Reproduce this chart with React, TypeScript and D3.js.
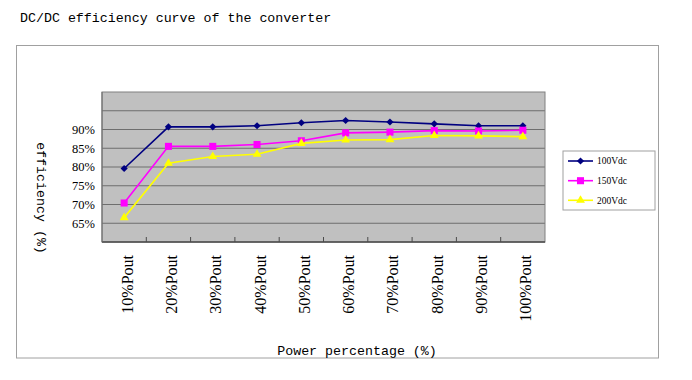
import React from "react";
import * as d3 from "d3";

const categories = ["10%Pout", "20%Pout", "30%Pout", "40%Pout", "50%Pout", "60%Pout", "70%Pout", "80%Pout", "90%Pout", "100%Pout"];
const series100 = [79.6, 90.7, 90.7, 91.0, 91.8, 92.4, 92.0, 91.5, 91.0, 91.0];
const series150 = [70.4, 85.5, 85.5, 86.0, 87.0, 89.1, 89.3, 89.7, 89.6, 89.8];
const series200 = [66.5, 81.0, 82.8, 83.4, 86.3, 87.2, 87.3, 88.4, 88.3, 88.1];
const seriesNames = ["100Vdc", "150Vdc", "200Vdc"];
const yTickValues = [65, 70, 75, 80, 85, 90];
const gridValues = [65, 70, 75, 80, 85, 90, 95];

const W = 692;
const H = 380;
const plot = { left: 102, top: 92, right: 545, bottom: 242 };

const seriesDefs = [
  { name: seriesNames[0], values: series100, color: "#000080", symbol: "diamond" },
  { name: seriesNames[1], values: series150, color: "#FF00FF", symbol: "square" },
  { name: seriesNames[2], values: series200, color: "#FFFF00", symbol: "triangle" },
];

function markerPath(kind: string): string {
  if (kind === "diamond") return d3.symbol().type(d3.symbolSquare).size(26)() as string;
  if (kind === "square") return d3.symbol().type(d3.symbolSquare).size(50)() as string;
  return d3.symbol().type(d3.symbolTriangle).size(34)() as string;
}

export default function App() {
  const x = d3.scaleBand<string>().domain(categories).range([plot.left, plot.right]);
  const y = d3.scaleLinear().domain([60, 100]).range([plot.bottom, plot.top]);
  const cx = (c: string) => (x(c) as number) + x.bandwidth() / 2;
  const line = d3
    .line<number>()
    .x((_, i) => cx(categories[i]))
    .y((d) => y(d));

  const mono = "'Liberation Mono', 'DejaVu Sans Mono', monospace";
  const serif = "'Liberation Serif', 'DejaVu Serif', serif";

  const legendY = [161, 180.7, 200.3];

  return (
    <svg width={W} height={H} style={{ position: "absolute", left: 0, top: 0, background: "#fff" }}>
      <rect x={0} y={0} width={W} height={H} fill="#fff" />
      <text x={20} y={21.5} fontFamily={mono} fontSize={13.3} fill="#000">
        DC/DC efficiency curve of the converter
      </text>
      {/* outer chart border */}
      <rect x={16.5} y={45.5} width={642} height={312.5} fill="#fff" stroke="#a0a0a0" strokeWidth={1} />

      {/* plot area */}
      <rect x={plot.left} y={plot.top} width={plot.right - plot.left} height={plot.bottom - plot.top} fill="#c0c0c0" />
      {gridValues.map((v) => (
        <line key={v} x1={plot.left} x2={plot.right} y1={y(v)} y2={y(v)} stroke="#6e6e6e" strokeWidth={1} />
      ))}
      <rect x={plot.left} y={plot.top} width={plot.right - plot.left} height={plot.bottom - plot.top} fill="none" stroke="#808080" strokeWidth={1} />
      <line x1={plot.left} x2={plot.right} y1={plot.bottom} y2={plot.bottom} stroke="#4a4a4a" strokeWidth={1.5} />
      <line x1={plot.left} x2={plot.left} y1={plot.top} y2={plot.bottom} stroke="#6a6a6a" strokeWidth={1} />
      {categories.slice(1).map((c) => (
        <line key={c} x1={x(c) as number} x2={x(c) as number} y1={plot.bottom} y2={plot.bottom - 5} stroke="#4a4a4a" strokeWidth={1} />
      ))}

      {/* y tick labels */}
      {yTickValues.map((v) => (
        <text key={v} x={95} y={y(v)} dy="0.35em" textAnchor="end" fontFamily={serif} fontSize={12.5} fill="#000">
          {v}%
        </text>
      ))}

      {/* x tick labels */}
      {categories.map((c) => (
        <text
          key={c}
          transform={`translate(${cx(c) + 8.5},255) rotate(-90)`}
          textAnchor="end"
          fontFamily={serif}
          fontSize={16}
          fill="#000"
        >
          {c}
        </text>
      ))}

      {/* series */}
      {seriesDefs.map((s) => (
        <g key={s.name}>
          <path d={line(s.values) as string} fill="none" stroke={s.color} strokeWidth={1.6} />
          {s.values.map((v, i) => (
            <path
              key={i}
              d={markerPath(s.symbol)}
              transform={`translate(${cx(categories[i])},${y(v)})${s.symbol === "diamond" ? " rotate(45)" : ""}`}
              fill={s.color}
            />
          ))}
        </g>
      ))}

      {/* axis titles */}
      <text transform="translate(37,198) rotate(90)" textAnchor="middle" fontFamily={mono} fontSize={13.3} fill="#000">
        efficiency (%)
      </text>
      <text x={357} y={355} textAnchor="middle" fontFamily={mono} fontSize={13.3} fill="#000">
        Power percentage (%)
      </text>

      {/* legend */}
      <rect x={563} y={151} width={92} height={59} fill="#fff" stroke="#a0a0a0" strokeWidth={1} />
      {seriesDefs.map((s, i) => (
        <g key={s.name}>
          <line x1={568} x2={593} y1={legendY[i]} y2={legendY[i]} stroke={s.color} strokeWidth={1.6} />
          <path
            d={markerPath(s.symbol)}
            transform={`translate(580.5,${legendY[i]})${s.symbol === "diamond" ? " rotate(45)" : ""}`}
            fill={s.color}
          />
          <text x={597} y={legendY[i]} dy="0.35em" fontFamily={serif} fontSize={9.5} fill="#000">
            {s.name}
          </text>
        </g>
      ))}
    </svg>
  );
}
